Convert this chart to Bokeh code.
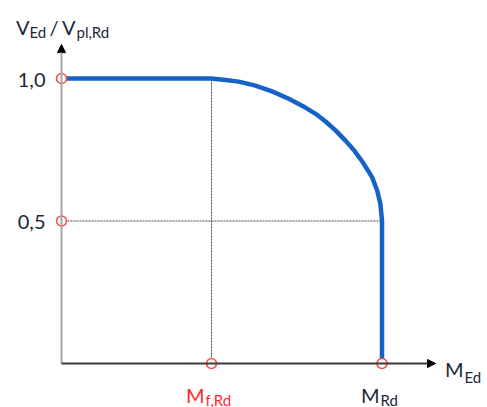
from bokeh.plotting import figure
from bokeh.models import Range1d, Arrow, NormalHead
from bokeh.core.properties import value
from bokeh.embed import file_html
from bokeh.resources import INLINE

# ---- data ----
M_f = 0.468          # M_f,Rd relative to M_Rd
M_Rd = 1.0
V_levels = [1.0, 0.5]
V_labels = ["1,0", "0,5"]

# interaction curve (M_Ed/M_Rd, V_Ed/V_pl,Rd)
curve_m = [0.0, 0.468, 0.512, 0.553, 0.605, 0.657, 0.709, 0.730, 0.761, 0.793,
           0.824, 0.855, 0.886, 0.912, 0.940, 0.969, 0.985, 0.995, 0.999, 1.0, 1.0]
curve_v = [1.0, 1.0, 0.995, 0.989, 0.975, 0.955, 0.929, 0.917, 0.898, 0.876,
           0.849, 0.818, 0.782, 0.749, 0.706, 0.654, 0.607, 0.560, 0.513, 0.5, 0.0]

# ---- layout ----
W, H = 487, 407
sx, sy = 320.5, 285.0
x0px, y0px = 61, 363
x_end = 1.167   # x-axis arrow tip
y_top = 1.119   # y-axis arrow tip

FONT = "Lato"
DARK = "#1c2838"
RED = "#ff2b2b"
BLUE = "#1662c6"
MAIN = "20px"
SUB = "15px"

p = figure(width=W, height=H, output_backend="svg", toolbar_location=None,
           x_range=Range1d(-x0px / sx, (W - x0px) / sx),
           y_range=Range1d(-(H - y0px) / sy, y0px / sy),
           x_axis_location=None, y_axis_location=None, min_border=0)
p.grid.visible = False
p.outline_line_color = None
p.background_fill_color = "white"

# dotted guides
p.line([M_f, M_f], [0, V_levels[0]], line_color="#444444", line_width=1, line_dash="2 1")
p.line([0, M_Rd], [V_levels[1], V_levels[1]], line_color="#444444", line_width=1, line_dash="2 1")

# axes with arrows
p.add_layout(Arrow(x_start=0, y_start=0, x_end=0, y_end=y_top,
                   line_color="#a8a8a8", line_width=2,
                   end=NormalHead(size=8, fill_color="black", line_color="black", line_width=1)))
p.add_layout(Arrow(x_start=0, y_start=0, x_end=x_end, y_end=0,
                   line_color="#3a3a3a", line_width=2,
                   end=NormalHead(size=8, fill_color="black", line_color="black", line_width=1)))

# curve
p.line(curve_m, curve_v, line_color=BLUE, line_width=4.5, line_join="round")

# markers
p.scatter([0, 0, M_f, M_Rd], [V_levels[0], V_levels[1], 0, 0], size=10,
          marker="circle", fill_color="white", line_color="#f05050", line_width=1.6)

# y tick labels
p.text(x=[0, 0], y=V_levels, text=V_labels, x_offset=-16, y_offset=1,
       text_align="right", text_baseline="middle", text_font=value(FONT),
       text_font_size=MAIN, text_color=DARK)

def lab(x, y, txt, dx, dy, size, color, align="left"):
    p.text(x=[x], y=[y], text=[txt], x_offset=dx, y_offset=dy, text_align=align,
           text_baseline="alphabetic", text_font=value(FONT),
           text_font_size=size, text_color=color)

# x labels
lab(M_f, 0, "M", -7, 31, MAIN, RED, "right")
lab(M_f, 0, "f,Rd", -6, 36, SUB, RED)
lab(M_Rd, 0, "M", -2.5, 31, MAIN, DARK, "right")
lab(M_Rd, 0, "Rd", -1.5, 36, SUB, DARK)
lab(x_end, 0, "M", 28, 5, MAIN, DARK, "right")
lab(x_end, 0, "Ed", 29, 13, SUB, DARK)

# y title
lab(0, y_top, "V", -32, -18, MAIN, DARK, "right")
lab(0, y_top, "Ed", -32, -13, SUB, DARK)
lab(0, y_top, "/", -7.5, -18, MAIN, DARK, "center")
lab(0, y_top, "V", 14, -18, MAIN, DARK, "right")
lab(0, y_top, "pl,Rd", 15, -13, SUB, DARK)

open("out.html", "w").write(file_html(p, INLINE))
